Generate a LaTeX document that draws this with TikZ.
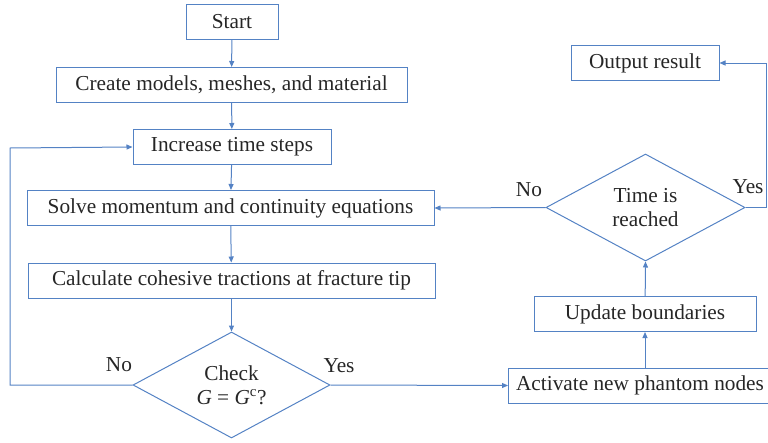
\documentclass[tikz,border=0pt]{standalone}
\usepackage{fontspec}
\setmainfont{Liberation Serif}
\usetikzlibrary{shapes.geometric,arrows.meta}
\definecolor{lblue}{RGB}{84,130,196}
\begin{document}
\begin{tikzpicture}[x=1pt,y=-1pt,
  box/.style={draw=lblue,line width=1pt,minimum height=35pt,inner sep=0pt,font=\fontsize{21.3}{24}\selectfont,text=black!85},
  dec/.style={draw=lblue,line width=1pt,diamond,inner sep=0pt,font=\fontsize{21.3}{24}\selectfont,text=black!85,align=center},
  conn/.style={draw=lblue,line width=1pt,-{Triangle[length=6pt,width=5pt]}},
  lbl/.style={font=\fontsize{21.3}{24}\selectfont,text=black!85}]
\useasboundingbox (0,0) rectangle (768,442);
\node[box,minimum width=92pt] (start) at (232,21.5) {Start};
\node[box,minimum width=351pt] (create) at (231.5,85) {Create models, meshes, and material};
\node[box,minimum width=198pt] (inc) at (232,147) {Increase time steps};
\node[box,minimum width=407pt] (solve) at (230.5,208) {Solve momentum and continuity equations};
\node[box,minimum width=407pt] (calc) at (231.5,280.5) {Calculate cohesive tractions at fracture tip};
\node[dec,minimum width=197pt,minimum height=106pt,aspect=1.86] (check) at (231.5,385) {Check\\\textit{G} = \textit{G}\textsuperscript{c}?};
\node[box,minimum width=262pt,anchor=west] (act) at (508,385.5) {\hspace*{1pt}Activate new phantom nodes};
\node[box,minimum width=222pt] (upd) at (645,314) {Update boundaries};
\node[dec,minimum width=199pt,minimum height=107pt,aspect=1.86] (time) at (645.5,207.5) {Time is\\reached};
\node[box,minimum width=148pt] (out) at (645,63) {Output result};
\coordinate (lc) at (10,385);
\coordinate (lt) at (10,148);
\coordinate (rc) at (766,207.5);
\coordinate (rt) at (766,63);
\draw[conn] (start) -- (create);
\draw[conn] (create) -- (inc);
\draw[conn] (inc) -- (solve);
\draw[conn] (solve) -- (calc);
\draw[conn] (calc) -- (check);
\draw[conn] (check.west) -- (lc) -- (lt) -- (inc.west);
\draw[conn] (check.east) -- (act.west);
\draw[conn] (act.north -| upd) -- (upd);
\draw[conn] (upd) -- (time.south);
\draw[conn] (time.west) -- (solve.east);
\draw[conn] (time.east) -- (rc) -- (rt) -- (out.east);
\node[lbl] (no1) at (119,365) {No};
\node[lbl] (yes1) at (339,366) {Yes};
\node[lbl] (no2) at (529,190) {No};
\node[lbl] (yes2) at (748,187) {Yes};
\end{tikzpicture}
\end{document}
